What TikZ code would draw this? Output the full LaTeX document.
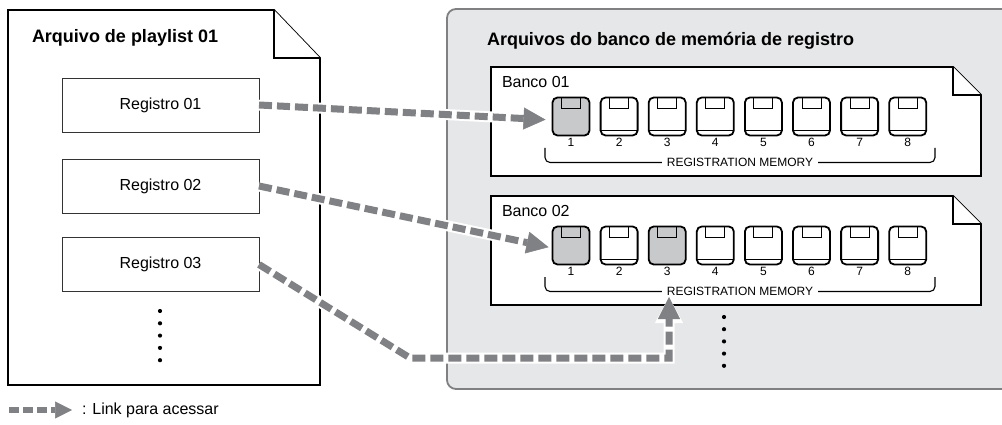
\documentclass[tikz,border=0pt]{standalone}
\usepackage{fontspec}
\setmainfont{Liberation Sans}
\usetikzlibrary{positioning, arrows.meta, calc}

\definecolor{panelgray}{RGB}{230,231,233}
\definecolor{panelline}{RGB}{128,128,130}
\definecolor{linkgray}{RGB}{128,129,132}
\definecolor{keygray}{RGB}{200,201,203}

\begin{document}
\begin{tikzpicture}[
    x=1pt, y=-1pt,
    every node/.style={inner sep=0pt, outer sep=0pt},
    title/.style={font=\fontsize{18}{20}\selectfont\bfseries, anchor=base west},
    filebox/.style={draw=black, line width=1.8pt, fill=white, line join=miter},
    regbox/.style={draw=black!80, line width=0.9pt, fill=white,
                   minimum width=197pt, minimum height=54pt,
                   font=\fontsize{16}{18}\selectfont},
    banklabel/.style={font=\fontsize{16}{18}\selectfont, anchor=base west},
    key/.style={draw, line width=1.8pt, rounded corners=5pt, fill=white,
                minimum width=37pt, minimum height=38pt,
                path picture={
                  \draw[line width=1pt, sharp corners] ([xshift=-9.5pt]path picture bounding box.north)
                      rectangle ([xshift=9.5pt,yshift=-11pt]path picture bounding box.north);
                  \draw[line width=1pt, sharp corners] ([yshift=5pt]path picture bounding box.south west)
                      -- ([yshift=5pt]path picture bounding box.south east);}},
    keyon/.style={key, fill=keygray,
                path picture={
                  \draw[line width=1pt, sharp corners] ([xshift=-9.5pt]path picture bounding box.north)
                      rectangle ([xshift=9.5pt,yshift=-11pt]path picture bounding box.north);}},
    keynum/.style={font=\fontsize{12}{13}\selectfont},
    memlabel/.style={font=\fontsize{12}{13}\selectfont, inner xsep=5pt},
    bracket/.style={line width=1.1pt, rounded corners=5pt},
    ellipsisdot/.style={circle, fill=black, minimum size=4.2pt},
    link/.style={draw=linkgray, line width=7pt, dash pattern=on 13pt off 5pt,
        -{Triangle[length=22pt, width=22pt, line width=0.5pt]},
        preaction={draw=white, line width=11pt, solid,
        -{Triangle[length=26pt, width=28pt, line width=0.5pt]}}},
    linksmall/.style={draw=linkgray, line width=5.5pt, dash pattern=on 10pt off 4pt,
        -{Triangle[length=17pt, width=17pt, line width=0.5pt]}},
]
\useasboundingbox (0,0) rectangle (1002,425);
\clip (0,0) rectangle (1002,425);

% playlist file
\draw[filebox] (8,10) -- (274,10) -- (320,58) -- (320,385) -- (8,385) -- cycle;
\draw[filebox] (274,10) -- (274,58) -- (320,58);
\node[title] (pltitle) at (32,43) {Arquivo de playlist 01};

\node[regbox] (reg1) at (160.5,105) {Registro 01};
\node[regbox] (reg2) at (160.5,186) {Registro 02};
\node[regbox] (reg3) at (160.5,264.5) {Registro 03};
\foreach \y [count=\n] in {311,323.3,335.6,347.9,360.2}
  \node[ellipsisdot] (pldot\n) at (160,\y) {};

% bank files panel
\draw[draw=panelline, fill=panelgray, line width=1.8pt, rounded corners=9pt]
  (447,9) rectangle (1015,389);
\node[title] (banktitle) at (487,46) {Arquivos do banco de memória de registro};

% Banco 01
\draw[filebox] (491,67) -- (953,67) -- (981,95) -- (981,176) -- (491,176) -- cycle;
\draw[filebox] (953,67) -- (953,95) -- (981,95);
\node[banklabel] (bank1) at (502,88) {Banco 01};
\foreach \i/\s in {1/keyon,2/key,3/key,4/key,5/key,6/key,7/key,8/key} {
  \node[\s] (k1\i) at ({571+48.1*(\i-1)},116.5) {};
  \node[keynum] (n1\i) at ({571+48.1*(\i-1)},142.5) {\i};
}
\node[memlabel] (mem1) at (740,162.5) {REGISTRATION MEMORY};
\draw[bracket] (545,148) |- (mem1.west);
\draw[bracket] (mem1.east) -| (935,148);

% Banco 02
\draw[filebox] (491,196) -- (953,196) -- (981,224) -- (981,305) -- (491,305) -- cycle;
\draw[filebox] (953,196) -- (953,224) -- (981,224);
\node[banklabel] (bank2) at (502,217) {Banco 02};
\foreach \i/\s in {1/keyon,2/key,3/keyon,4/key,5/key,6/key,7/key,8/key} {
  \node[\s] (k2\i) at ({571+48.1*(\i-1)},245.5) {};
  \node[keynum] (n2\i) at ({571+48.1*(\i-1)},271.5) {\i};
}
\node[memlabel] (mem2) at (740,291.5) {REGISTRATION MEMORY};
\draw[bracket] (545,277) |- (mem2.west);
\draw[bracket] (mem2.east) -| (935,277);

\foreach \y [count=\n] in {317,329.2,341.4,353.6,365.8}
  \node[ellipsisdot] (bkdot\n) at (724,\y) {};

% links
\coordinate (bend) at (410,358);
\coordinate (memtip) at (669,297);
\draw[link, shorten >=7pt] (reg1.east) -- ([yshift=-3.5pt]k11.west);
\draw[link, shorten >=4pt] (reg2.east) -- ([yshift=-2.5pt]k21.west);
\draw[link] (reg3.east) -- (bend) -| (memtip);

% legend
\coordinate (legstart) at (9,410);
\coordinate (legend) at (72,410);
\draw[linksmall] (legstart) -- (legend);
\node[anchor=west, font=\fontsize{16}{18}\selectfont] (legtext) at (82,410) {: Link para acessar};
\end{tikzpicture}
\end{document}
